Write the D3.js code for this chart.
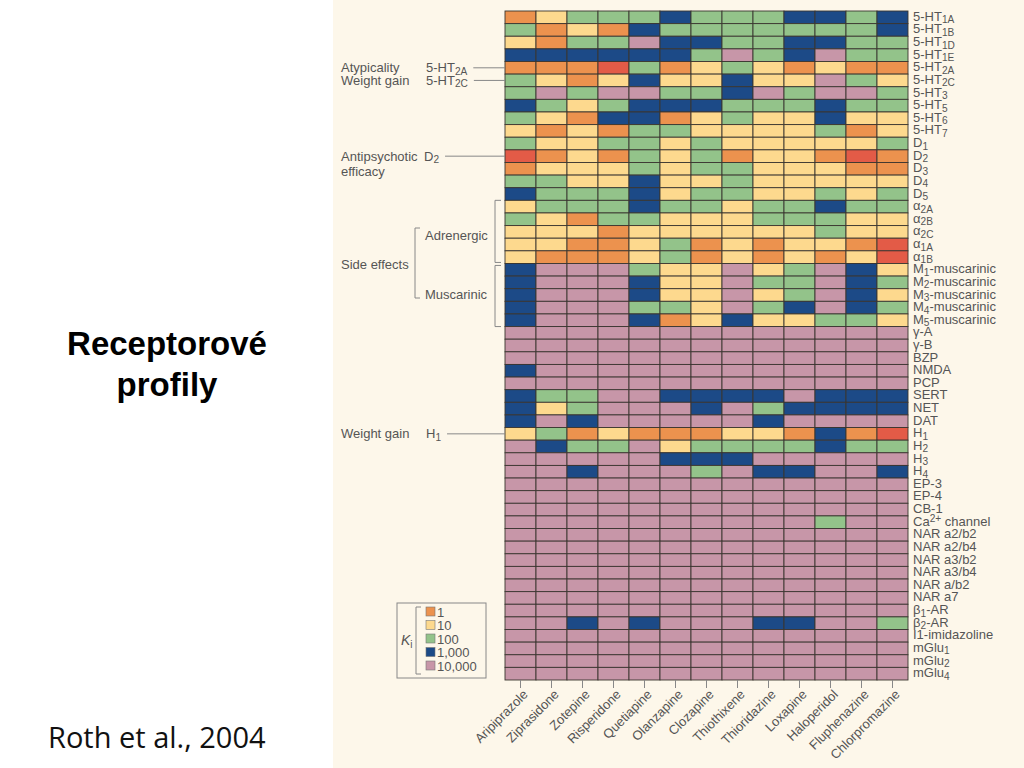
<!DOCTYPE html>
<html>
<head>
<meta charset="utf-8">
<script src="https://cdn.jsdelivr.net/npm/d3@7"></script>
<style>
  html, body { margin: 0; padding: 0; background: #fff; }
  svg { display: block; }
</style>
</head>
<body>
<script>
var width = 1024;
var height = 768;

// drugs along the bottom
var drugs = ["Aripiprazole", "Ziprasidone", "Zotepine", "Risperidone", "Quetiapine",
  "Olanzapine", "Clozapine", "Thiothixene", "Thioridazine", "Loxapine",
  "Haloperidol", "Fluphenazine", "Chlorpromazine"];

// receptors down the side; {..} = subscript, [..] = superscript
var receptors = ["5-HT{1A}", "5-HT{1B}", "5-HT{1D}", "5-HT{1E}", "5-HT{2A}", "5-HT{2C}",
  "5-HT{3}", "5-HT{5}", "5-HT{6}", "5-HT{7}", "D{1}", "D{2}", "D{3}", "D{4}", "D{5}",
  "\u03b1{2A}", "\u03b1{2B}", "\u03b1{2C}", "\u03b1{1A}", "\u03b1{1B}",
  "M{1}-muscarinic", "M{2}-muscarinic", "M{3}-muscarinic", "M{4}-muscarinic", "M{5}-muscarinic",
  "\u03b3-A", "\u03b3-B", "BZP", "NMDA", "PCP", "SERT", "NET", "DAT",
  "H{1}", "H{2}", "H{3}", "H{4}", "EP-3", "EP-4", "CB-1", "Ca[2+] channel",
  "NAR a2/b2", "NAR a2/b4", "NAR a3/b2", "NAR a3/b4", "NAR a/b2", "NAR a7",
  "\u03b2{1}-AR", "\u03b2{2}-AR", "I1-imidazoline", "mGlu{1}", "mGlu{2}", "mGlu{4}"];

// Ki class per cell, one string per receptor, one letter per drug
// R <1, O 1, Y 10, G 100, B 1,000, P 10,000
var kiCodes = [
  "OYGGGBGGGBBGB", "GOYOBGGGGGGGB", "YOGGPBBGGBBGG", "BBBBBBGPGBPGG",
  "OOORGOYGYOYOO", "GYOYBYYBYYPGY", "GPGPPGGBPGPPG", "BGYGBBBGGGBGG",
  "GYOBBOYGYYBYY", "YOYOGGYYYYGOY",
  "GYYGGYGYYYYYG", "ROYOGYGOYYORO", "OYYYGYGGYYYOO", "GGYYBYYGYYYYY", "BGGGBYGGYYGYG",
  "YGGGBGGYGGBGG", "GYOGGYYYGGGYY", "YYYOYYYYYYGYY", "YYOOYGOYOYYOR", "YOOOYGOYOYOYR",
  "BPPPGYYPYGPBY", "BPPPBYYPGGPBG", "BPPPBYYPYGPBY", "BPPPGGYPGBPBG", "BPPPBOYBYYGGY",
  "PPPPPPPPPPPPP", "PPPPPPPPPPPPP", "PPPPPPPPPPPPP", "BPPPPPPPPPPPP", "PPPPPPPPPPPPP",
  "BGGPPBBBBPBBB", "BYGPPPBPGBBBB", "BPBPPPPPBPPPP",
  "YGOYOOOYYOBOR", "PBGGPYGGGGBGG", "PPPPPBBBPPPPP", "PPBPPPGPBBPPB",
  "PPPPPPPPPPPPP", "PPPPPPPPPPPPP", "PPPPPPPPPPPPP", "PPPPPPPPPPGPP",
  "PPPPPPPPPPPPP", "PPPPPPPPPPPPP", "PPPPPPPPPPPPP", "PPPPPPPPPPPPP",
  "PPPPPPPPPPPPP", "PPPPPPPPPPPPP", "PPPPPPPPPPPPP",
  "PPBPBPPPBBPPG", "PPPPPPPPPPPPP", "PPPPPPPPPPPPP", "PPPPPPPPPPPPP", "PPPPPPPPPPPPP"
];
var codeLetters = ["R", "O", "Y", "G", "B", "P"];
var kiLevels = [0.1, 1, 10, 100, 1000, 10000];
var kiColors = ["#e35b47", "#ec924e", "#fdd98e", "#93c38a", "#1c4a87", "#c796a8"];

// legend
var legendLevels = [1, 10, 100, 1000, 10000];
var legendLabels = ["1", "10", "100", "1,000", "10,000"];

// functional annotations on the left
var notes = [
  {row: "5-HT{2A}", text: ["Atypicality"], label: "5-HT{2A}"},
  {row: "5-HT{2C}", text: ["Weight gain"], label: "5-HT{2C}"},
  {row: "D{2}", text: ["Antipsychotic", "efficacy"], label: "D{2}"},
  {row: "H{1}", text: ["Weight gain"], label: "H{1}"}
];

var grid = {left: 505, right: 908, top: 11, bottom: 680};
var textColor = "#555";
var font = "'Liberation Sans', Arial, sans-serif";

var svg = d3.select("body")
  .append("svg")
  .attr("width", width)
  .attr("height", height);

svg.append("rect")
  .attr("x", 333).attr("y", 0)
  .attr("width", width - 333).attr("height", height)
  .attr("fill", "#fdf7ea");

var xScale = d3.scaleBand()
  .domain(drugs)
  .range([grid.left, grid.right]);

var yScale = d3.scaleBand()
  .domain(receptors)
  .range([grid.top, grid.bottom]);

var color = d3.scaleOrdinal()
  .domain(kiLevels)
  .range(kiColors);

var cells = [];
receptors.forEach(function(r, i) {
  drugs.forEach(function(d, j) {
    var k = kiLevels[codeLetters.indexOf(kiCodes[i][j])];
    cells.push({receptor: r, drug: d, ki: k});
  });
});

// put sub/superscripts into a text element
function richText(sel, str) {
  var parts = str.match(/\{[^}]*\}|\[[^\]]*\]|[^{\[]+/g);
  var shift = 0;
  parts.forEach(function(p) {
    var target = 0, txt = p, small = false;
    if (p[0] == "{") { target = 2.5; txt = p.slice(1, -1); small = true; }
    if (p[0] == "[") { target = -4; txt = p.slice(1, -1); small = true; }
    var t = sel.append("tspan").attr("dy", target - shift).text(txt);
    if (small) t.attr("font-size", "0.78em");
    shift = target;
  });
}

svg.append("g")
  .selectAll("rect")
  .data(cells)
  .enter()
  .append("rect")
    .attr("x", function(d) { return xScale(d.drug); })
    .attr("y", function(d) { return yScale(d.receptor); })
    .attr("width", xScale.bandwidth())
    .attr("height", yScale.bandwidth())
    .attr("fill", function(d) { return color(d.ki); })
    .attr("stroke", "#3a3530")
    .attr("stroke-width", 0.9);

// receptor names on the right
svg.append("g")
  .selectAll("text")
  .data(receptors)
  .enter()
  .append("text")
    .attr("x", grid.right + 5)
    .attr("y", function(d) { return yScale(d) + yScale.bandwidth() / 2 + 3.5; })
    .attr("font-family", font)
    .attr("font-size", 13)
    .attr("fill", textColor)
    .each(function(d) { richText(d3.select(this), d); });

// drug axis
var xAxis = svg.append("g")
  .attr("transform", "translate(0," + grid.bottom + ")")
  .call(d3.axisBottom(xScale).tickSize(8).tickSizeOuter(0));
xAxis.select(".domain").remove();
xAxis.selectAll("line").attr("stroke", "#888");
xAxis.selectAll("text")
  .attr("x", 0).attr("y", 0).attr("dy", "0.35em")
  .attr("transform", "translate(5,12) rotate(-45)")
  .style("text-anchor", "end")
  .attr("font-family", font)
  .attr("font-size", 13)
  .attr("fill", textColor);

// annotations
var noteG = svg.append("g")
  .attr("font-family", font)
  .attr("font-size", 13)
  .attr("fill", textColor);

notes.forEach(function(n) {
  var cy = yScale(n.row) + yScale.bandwidth() / 2;
  n.text.forEach(function(t, i) {
    noteG.append("text").attr("x", 341).attr("y", cy + 4.5 + i * 15).text(t);
  });
  var lab = noteG.append("text").attr("x", n.text[0] == "Antipsychotic" ? 424 : 426).attr("y", cy + 4.5);
  richText(lab, n.label);
  var x0 = lab.node().getComputedTextLength() + +lab.attr("x") + 6;
  noteG.append("line")
    .attr("x1", x0).attr("x2", grid.left)
    .attr("y1", cy).attr("y2", cy)
    .attr("stroke", "#888").attr("stroke-width", 1);
});

// side effect brackets
function bracket(x, y0, y1, tick) {
  noteG.append("path")
    .attr("d", "M" + (x + tick) + "," + y0 + "H" + x + "V" + y1 + "H" + (x + tick))
    .attr("fill", "none")
    .attr("stroke", "#888")
    .attr("stroke-width", 1);
}
var adrTop = yScale("\u03b1{2A}");
var adrBottom = yScale("\u03b1{1B}") + yScale.bandwidth();
var musTop = yScale("M{1}-muscarinic") + 2;
var musBottom = yScale("M{5}-muscarinic") + yScale.bandwidth();
bracket(495, adrTop, adrBottom - 1, 6);
bracket(495, musTop, musBottom, 6);
bracket(415, 228, 298, 5);
noteG.append("text").attr("x", 425).attr("y", 240).text("Adrenergic");
noteG.append("text").attr("x", 425).attr("y", 299).text("Muscarinic");
noteG.append("text").attr("x", 341).attr("y", 269).text("Side effects");

// legend
var legend = svg.append("g")
  .attr("font-family", font)
  .attr("font-size", 13)
  .attr("fill", textColor);
legend.append("rect")
  .attr("x", 397).attr("y", 603)
  .attr("width", 89).attr("height", 75)
  .attr("fill", "none")
  .attr("stroke", "#888");
var ki = legend.append("text").attr("x", 401).attr("y", 645).attr("font-size", 14);
ki.append("tspan").attr("font-style", "italic").text("K");
ki.append("tspan").attr("font-size", 10).attr("dy", 3).text("i");
legend.append("path")
  .attr("d", "M421,607H416V674H421")
  .attr("fill", "none").attr("stroke", "#888");
legendLevels.forEach(function(v, i) {
  var y = 607 + i * 13.5;
  legend.append("rect")
    .attr("x", 426).attr("y", y)
    .attr("width", 9).attr("height", 9)
    .attr("fill", color(v))
    .attr("stroke", "#777").attr("stroke-width", 0.6);
  legend.append("text")
    .attr("x", 437).attr("y", y + 9.5)
    .text(legendLabels[i]);
});

// slide text
svg.append("text")
  .attr("x", 167).attr("y", 355)
  .attr("text-anchor", "middle")
  .attr("font-family", font)
  .attr("font-weight", "bold")
  .attr("font-size", 33)
  .text("Receptorov\u00e9");
svg.append("text")
  .attr("x", 167).attr("y", 396)
  .attr("text-anchor", "middle")
  .attr("font-family", font)
  .attr("font-weight", "bold")
  .attr("font-size", 33)
  .text("profily");
svg.append("text")
  .attr("x", 48).attr("y", 748)
  .attr("font-family", "'Open Sans', sans-serif")
  .attr("font-size", 29)
  .attr("fill", "#111")
  .text("Roth et al., 2004");
</script>
</body>
</html>
